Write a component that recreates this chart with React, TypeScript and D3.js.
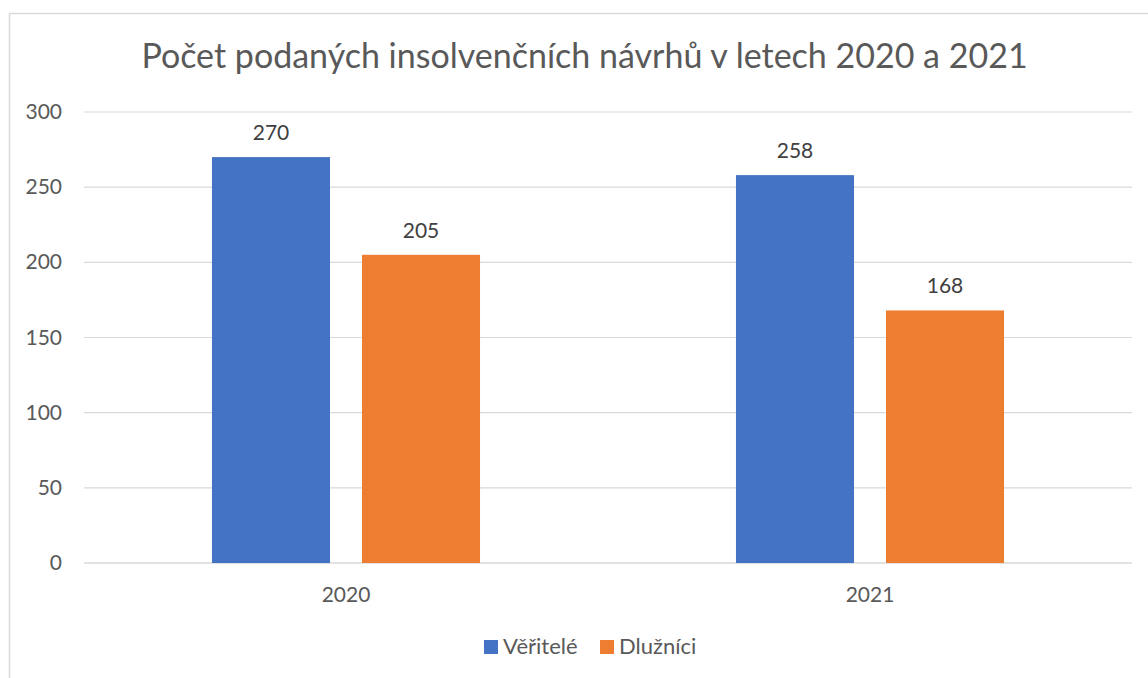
import React, { useEffect, useRef } from 'react';
import * as d3 from 'd3';

const categories = ['2020', '2021'];
const seriesNames = ['Věřitelé', 'Dlužníci'];
const seriesColors = ['#4472C4', '#ED7D31'];
const veritele = [270, 258];
const dluznici = [205, 168];
const yTicks = [0, 50, 100, 150, 200, 250, 300];
const title = 'Počet podaných insolvenčních návrhů v letech 2020 a 2021';

const App: React.FC = () => {
  const svgRef = useRef<SVGSVGElement>(null);

  useEffect(() => {
    if (!svgRef.current) return;
    const svg = d3.select(svgRef.current);
    svg.selectAll('*').remove();

    const width = 1148;
    const height = 678;
    const font = 'Lato, "Open Sans", sans-serif';
    const plot = { left: 84, right: 1132, top: 112, bottom: 563 };

    // chart frame
    svg.append('rect')
      .attr('x', 9.5).attr('y', 13.5)
      .attr('width', width + 10).attr('height', height + 10)
      .attr('fill', '#fff')
      .attr('stroke', '#d9d9d9')
      .attr('stroke-width', 1.5);

    const y = d3.scaleLinear().domain([0, 300]).range([plot.bottom, plot.top]);

    const x0 = d3.scaleBand<string>()
      .domain(categories)
      .range([plot.left, plot.right])
      .padding(0);

    const x1 = d3.scaleBand<string>()
      .domain(seriesNames)
      .range([0, x0.bandwidth()])
      .paddingInner(0.2133)
      .paddingOuter(0.853);

    // gridlines
    svg.append('g')
      .selectAll('line')
      .data(yTicks)
      .enter()
      .append('line')
      .attr('x1', plot.left).attr('x2', plot.right)
      .attr('y1', d => y(d)).attr('y2', d => y(d))
      .attr('stroke', '#d9d9d9')
      .attr('stroke-width', d => (d === 0 ? 1.5 : 1.2));

    // y tick labels
    svg.append('g')
      .selectAll('text')
      .data(yTicks)
      .enter()
      .append('text')
      .attr('x', 62)
      .attr('y', d => y(d) + 7)
      .attr('text-anchor', 'end')
      .attr('fill', '#595959')
      .style('font-family', font)
      .style('font-size', '21px')
      .text(d => d);

    const rows = categories.map((c, i) => ({ cat: c, vals: [veritele[i], dluznici[i]] }));

    const groups = svg.append('g')
      .selectAll('g')
      .data(rows)
      .enter()
      .append('g')
      .attr('transform', d => `translate(${x0(d.cat)},0)`);

    const bars = groups.selectAll('g')
      .data(d => d.vals.map((v, j) => ({ name: seriesNames[j], v, color: seriesColors[j] })))
      .enter()
      .append('g');

    bars.append('rect')
      .attr('x', d => x1(d.name)!)
      .attr('y', d => y(d.v))
      .attr('width', x1.bandwidth())
      .attr('height', d => y(0) - y(d.v))
      .attr('fill', d => d.color);

    bars.append('text')
      .attr('x', d => x1(d.name)! + x1.bandwidth() / 2)
      .attr('y', d => y(d.v) - 17)
      .attr('text-anchor', 'middle')
      .attr('fill', '#404040')
      .style('font-family', font)
      .style('font-size', '21px')
      .text(d => d.v);

    // category labels
    svg.append('g')
      .selectAll('text')
      .data(categories)
      .enter()
      .append('text')
      .attr('x', d => x0(d)! + x0.bandwidth() / 2)
      .attr('y', 602)
      .attr('text-anchor', 'middle')
      .attr('fill', '#595959')
      .style('font-family', font)
      .style('font-size', '21px')
      .text(d => d);

    // title
    svg.append('text')
      .attr('x', 584.5)
      .attr('y', 68)
      .attr('text-anchor', 'middle')
      .attr('fill', '#595959')
      .style('font-family', font)
      .style('font-size', '34px')
      .text(title);

    // legend
    const legendX = [484, 600];
    const legend = svg.append('g')
      .selectAll('g')
      .data(seriesNames)
      .enter()
      .append('g')
      .attr('transform', (d, i) => `translate(${legendX[i]},640)`);

    legend.append('rect')
      .attr('width', 14).attr('height', 14)
      .attr('fill', (d, i) => seriesColors[i]);

    legend.append('text')
      .attr('x', 19)
      .attr('y', 14)
      .attr('fill', '#595959')
      .style('font-family', font)
      .style('font-size', '22px')
      .text(d => d);
  }, []);

  return (
    <div style={{ position: 'fixed', left: 0, top: 0, width: 1148, height: 678, background: '#fff' }}>
      <svg ref={svgRef} width={1148} height={678} style={{ display: 'block' }}></svg>
    </div>
  );
};

export default App;
